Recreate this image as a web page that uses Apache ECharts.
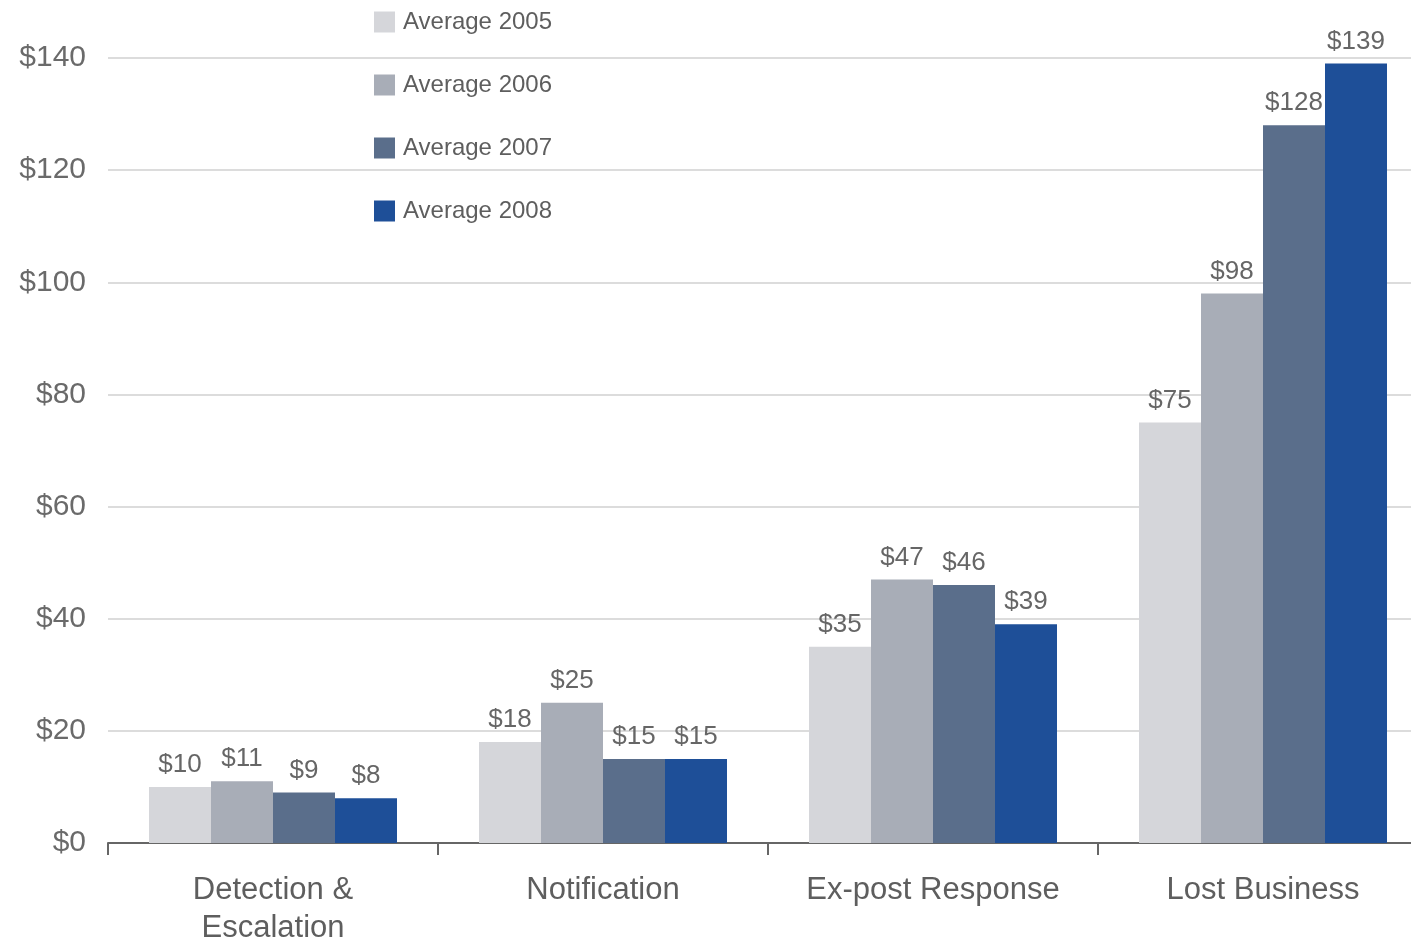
<!DOCTYPE html>
<html>
<head>
<meta charset="utf-8">
<script src="https://cdn.jsdelivr.net/npm/echarts@6/dist/echarts.min.js"></script>
<style>
html, body { margin: 0; padding: 0; background: #fff; overflow: hidden; }
#chart { width: 1411px; height: 942px; }
</style>
</head>
<body>
<div id="chart"></div>
<script>
var categories = ['Detection &\nEscalation', 'Notification', 'Ex-post Response', 'Lost Business'];
var avg2005 = [10, 18, 35, 75];
var avg2006 = [11, 25, 47, 98];
var avg2007 = [9, 15, 46, 128];
var avg2008 = [8, 15, 39, 139];
var yTicks = [0, 20, 40, 60, 80, 100, 120, 140];

var colors = ['#d5d6da', '#a8adb7', '#5a6e8b', '#1e4f98'];
var names = ['Average 2005', 'Average 2006', 'Average 2007', 'Average 2008'];
var values = [avg2005, avg2006, avg2007, avg2008];

var myChart = echarts.init(document.getElementById('chart'));

var series = names.map(function (n, i) {
    return {
        name: n,
        type: 'bar',
        data: values[i],
        barWidth: 62,
        barGap: '0%',
        itemStyle: { color: colors[i] },
        label: {
            show: true,
            position: 'top',
            distance: 9,
            formatter: '${c}',
            fontFamily: 'Liberation Sans',
            fontSize: 26,
            color: '#666'
        }
    };
});

var option = {
    backgroundColor: '#fff',
    animation: false,
    textStyle: { fontFamily: 'Liberation Sans' },
    legend: {
        orient: 'vertical',
        left: 369,
        top: 5,
        itemWidth: 21,
        itemHeight: 21,
        itemGap: 39,
        itemStyle: { borderWidth: 0 },
        icon: 'rect',
        textStyle: { fontSize: 24, color: '#5e5e5e', fontFamily: 'Liberation Sans', padding: [0, 0, 0, 3] },
        data: names
    },
    grid: {
        left: 108,
        top: 58,
        width: 1320,
        height: 785,
        outerBoundsMode: 'none',
        containLabel: false
    },
    xAxis: {
        type: 'category',
        data: categories,
        axisLine: { lineStyle: { color: '#666', width: 2 } },
        axisTick: { show: true, length: 12, lineStyle: { color: '#666', width: 2 } },
        axisLabel: {
            interval: 0,
            fontSize: 31,
            color: '#5e5e5e',
            margin: 28,
            lineHeight: 38
        }
    },
    yAxis: {
        type: 'value',
        min: yTicks[0],
        max: yTicks[yTicks.length - 1],
        interval: 20,
        axisLine: { show: false },
        axisTick: { show: false },
        axisLabel: {
            fontSize: 30,
            color: '#6a6a6a',
            margin: 22,
            formatter: '${value}'
        },
        splitLine: { lineStyle: { color: '#dcdcdc', width: 2 } }
    },
    series: series
};

myChart.setOption(option);
</script>
</body>
</html>
